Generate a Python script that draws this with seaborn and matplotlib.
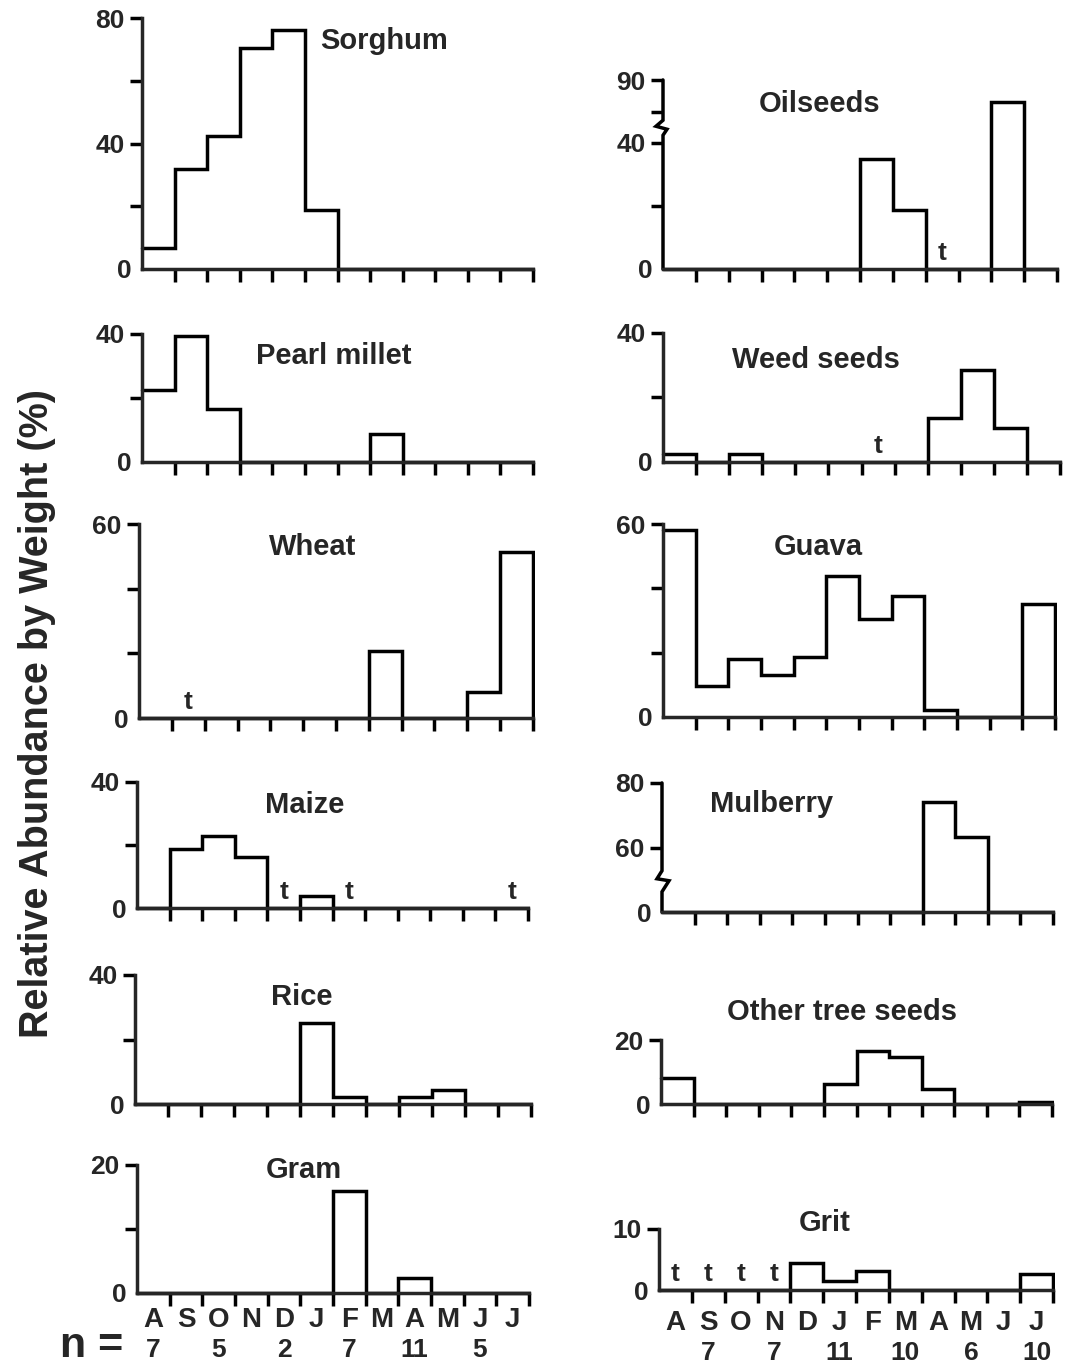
import numpy as np
import pandas as pd
import matplotlib
matplotlib.use("Agg")
import matplotlib.pyplot as plt
from matplotlib.transforms import Bbox, TransformedBbox
import seaborn as sns

# ---- data: relative abundance by weight (%) per month, Aug .. Jul ----
months = ["A", "S", "O", "N", "D", "J", "F", "M", "A", "M", "J", "J"]
n_left = ["7", "", "5", "", "2", "", "7", "", "11", "", "5", ""]
n_right = ["", "7", "", "7", "", "11", "", "10", "", "6", "", "10"]

sorghum = [6.7, 31.9, 42.5, 70.4, 76.2, 18.7, 0, 0, 0, 0, 0, 0]
pearl_millet = [22.5, 39.3, 16.5, 0, 0, 0, 0, 8.6, 0, 0, 0, 0]
wheat = [0, 0, 0, 0, 0, 0, 0, 20.6, 0, 0, 7.9, 51.3]
maize = [0, 18.6, 22.8, 16.3, 0, 3.7, 0, 0, 0, 0, 0, 0]
rice = [0, 0, 0, 0, 0, 25.2, 2.3, 0, 2.3, 4.3, 0, 0]
gram = [0, 0, 0, 0, 0, 0, 16.0, 0, 2.4, 0, 0, 0]
oilseeds = [0, 0, 0, 0, 0, 0, 34.8, 18.7, 0, 0, 82.9, 0]
weed_seeds = [2.6, 0, 2.6, 0, 0, 0, 0, 0, 13.5, 28.4, 10.6, 0]
guava = [58.2, 9.6, 17.9, 13.0, 18.7, 43.8, 30.6, 37.7, 2.3, 0, 0, 35.0]
mulberry = [0, 0, 0, 0, 0, 0, 0, 0, 74.2, 63.4, 0, 0]
other_tree_seeds = [8.1, 0, 0, 0, 0, 6.2, 16.6, 14.6, 4.7, 0, 0, 0.5]
grit = [0, 0, 0, 0, 4.5, 1.5, 3.1, 0, 0, 0, 0, 2.6]

# months where only a trace ("t") was found
trace_wheat = [1]
trace_maize = [4, 6, 11]
trace_oilseeds = [8]
trace_weed = [6]
trace_grit = [0, 1, 2, 3]

# ---- style ----
sns.set_style("ticks")
plt.rcParams["font.family"] = ["Liberation Sans", "DejaVu Sans"]
plt.rcParams["font.weight"] = "bold"

FIG_W, FIG_H = 1067, 1364
LW = 2.5
TICK_FS = 19
TITLE_FS = 21
MONTH_FS = 20

fig = plt.figure(figsize=(FIG_W / 100, FIG_H / 100), dpi=100)


def add_axes(box):
    left, top, right, bottom = box
    return fig.add_axes([left / FIG_W, 1 - bottom / FIG_H,
                         (right - left) / FIG_W, (bottom - top) / FIG_H])


def broken_scale(lo, hi, squeeze):
    """Piecewise-linear forward/inverse pair that compresses [lo, hi]."""
    span = hi - lo

    def fwd(y):
        y = np.asarray(y, dtype=float)
        return np.where(y <= lo, y,
                        np.where(y < hi, lo + (y - lo) * squeeze / span,
                                 y - span + squeeze))

    def inv(f):
        f = np.asarray(f, dtype=float)
        return np.where(f <= lo, f,
                        np.where(f < lo + squeeze, lo + (f - lo) * span / squeeze,
                                 f + span - squeeze))
    return fwd, inv


panels = [
    dict(title="Sorghum", values=sorghum, traces=[], ymax=80,
         ticks=[20, 40, 60, 80], labels=[40, 80],
         box=(142, 18, 533, 269), tpos=(0.62, 0.91)),
    dict(title="Pearl millet", values=pearl_millet, traces=[], ymax=40,
         ticks=[20, 40], labels=[40],
         box=(142, 334, 533, 462), tpos=(0.49, 0.83)),
    dict(title="Wheat", values=wheat, traces=trace_wheat, ymax=60,
         ticks=[20, 40, 60], labels=[60],
         box=(139, 524, 533, 718), tpos=(0.44, 0.88)),
    dict(title="Maize", values=maize, traces=trace_maize, ymax=40,
         ticks=[20, 40], labels=[40],
         box=(137, 782, 528, 908), tpos=(0.43, 0.82)),
    dict(title="Rice", values=rice, traces=[], ymax=40,
         ticks=[20, 40], labels=[40],
         box=(135, 975, 531, 1104), tpos=(0.42, 0.83)),
    dict(title="Gram", values=gram, traces=[], ymax=20,
         ticks=[10, 20], labels=[20],
         box=(137, 1165, 529, 1293), tpos=(0.425, 0.96)),
    dict(title="Oilseeds", values=oilseeds, traces=trace_oilseeds, ymax=90,
         ticks=[20, 40, 80, 90], labels=[40, 90],
         box=(663, 80, 1057, 269), tpos=(0.397, 0.875),
         brk=(44, 76, 2, 60, [(0, -8), (4, -2), (-7, 1), (0, 7)])),
    dict(title="Weed seeds", values=weed_seeds, traces=trace_weed, ymax=40,
         ticks=[20, 40], labels=[40],
         box=(663, 333, 1060, 462), tpos=(0.384, 0.79)),
    dict(title="Guava", values=guava, traces=[], ymax=60,
         ticks=[20, 40, 60], labels=[60],
         box=(663, 524, 1055, 717), tpos=(0.397, 0.88)),
    dict(title="Mulberry", values=mulberry, traces=[], ymax=80,
         ticks=[60, 80], labels=[60, 80],
         box=(662, 783, 1053, 912), tpos=(0.28, 0.84),
         brk=(9, 51, 2, 30, [(0, -12), (7, -1), (-5, 1), (0, 9)])),
    dict(title="Other tree seeds", values=other_tree_seeds, traces=[], ymax=20,
         ticks=[20], labels=[20],
         box=(661, 1040, 1052, 1104), tpos=(0.464, 1.44)),
    dict(title="Grit", values=grit, traces=trace_grit, ymax=10,
         ticks=[10], labels=[10],
         box=(659, 1229, 1053, 1290), tpos=(0.42, 1.10)),
]

axes = []
for p in panels:
    ax = add_axes(p["box"])
    axes.append(ax)

    # a trailing empty bin closes the outline at the right end of the axis
    df = pd.DataFrame({"month": np.arange(12) + 0.5, "pct": p["values"]})
    sns.histplot(data=df, x="month", weights="pct", binwidth=1, binrange=(0, 13),
                 element="step", fill=False, color="black", linewidth=LW, ax=ax)
    if "brk" in p:
        lo, hi, sq, _, _ = p["brk"]
        ax.set_yscale("function", functions=broken_scale(lo, hi, sq))
    clip = TransformedBbox(Bbox([[-0.01, -0.05], [1.004, 1.1]]), ax.transAxes)
    for line in ax.lines:
        line.set_clip_box(clip)
        line.set_solid_joinstyle("miter")

    ax.set_xlim(0, 12)
    ax.set_ylim(0, p["ymax"])
    ax.set_xlabel("")
    ax.set_ylabel("")

    for side in ("top", "right"):
        ax.spines[side].set_visible(False)
    for side in ("left", "bottom"):
        ax.spines[side].set_linewidth(LW)

    ax.set_xticks(np.arange(1, 13))
    ax.set_xticklabels([])
    ax.tick_params(axis="x", which="major", direction="out", length=9.5,
                   width=LW, color="black")

    ax.set_yticks(p["ticks"])
    ax.set_yticklabels([str(t) if t in p["labels"] else "" for t in p["ticks"]],
                       fontsize=TICK_FS, fontweight="bold")
    ax.set_yticks([0], minor=True)
    ax.set_yticklabels(["0"], minor=True, fontsize=TICK_FS, fontweight="bold")
    ax.tick_params(axis="y", which="major", direction="out", length=9,
                   width=LW, pad=3.5, color="black")
    ax.tick_params(axis="y", which="minor", length=0, pad=7.5)
    ax.tick_params(axis="x", which="minor", length=0)

    # broken y axis: hide the spine and redraw it with a zigzag
    if "brk" in p:
        lo, hi, sq, ymid, zig = p["brk"]
        ax.spines["left"].set_visible(False)
        left, top, right, bottom = p["box"]
        w_px, h_px = right - left, bottom - top
        fwd = broken_scale(lo, hi, sq)[0]
        ymid_frac = float(fwd(ymid)) / float(fwd(p["ymax"]))
        pts_x = [0.0] + [dx / w_px for dx, dy in zig] + [0.0]
        pts_y = [0.0] + [ymid_frac + dy / h_px for dx, dy in zig] + [1.0]
        ax.plot(pts_x, pts_y, transform=ax.transAxes, color="black",
                lw=LW, clip_on=False, solid_joinstyle="miter")

    # trace markers
    for i in p["traces"]:
        ax.annotate("t", xy=(i + 0.5, 0), xycoords=("data", "axes fraction"),
                    xytext=(0, 16), textcoords="offset pixels",
                    ha="center", va="center", fontsize=TICK_FS,
                    fontweight="bold")

    ax.text(p["tpos"][0], p["tpos"][1], p["title"], transform=ax.transAxes,
            ha="center", va="center", fontsize=TITLE_FS, fontweight="bold")

# month and sample-size rows under the bottom panels
for ax, n_vals, m_off, n_off in [(axes[5], n_left, -27, -57),
                                 (axes[11], n_right, -33, -63)]:
    for i, (m, n) in enumerate(zip(months, n_vals)):
        ax.annotate(m, xy=(i + 0.5, 0), xycoords=("data", "axes fraction"),
                    xytext=(0, m_off), textcoords="offset pixels",
                    ha="center", va="center", fontsize=MONTH_FS,
                    fontweight="bold", annotation_clip=False)
        if n:
            ax.annotate(n, xy=(i + 0.5, 0), xycoords=("data", "axes fraction"),
                        xytext=(0, n_off), textcoords="offset pixels",
                        ha="center", va="center", fontsize=19,
                        fontweight="bold", annotation_clip=False)

fig.text(60 / FIG_W, 1 - 1346 / FIG_H, "n =", ha="left", va="center",
         fontsize=31, fontweight="bold")
fig.text(37 / FIG_W, 1 - 713 / FIG_H, "Relative Abundance by Weight (%)",
         rotation=90, ha="center", va="center", fontsize=28.5, fontweight="bold")

fig.savefig("out.png", dpi=100, facecolor="white")
